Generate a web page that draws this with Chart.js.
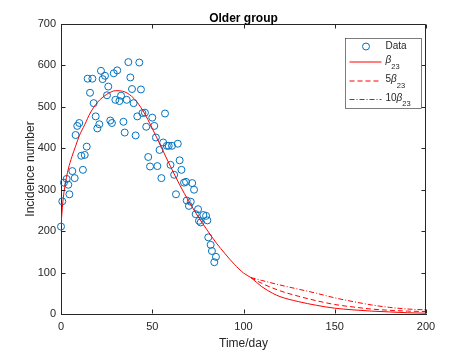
<!DOCTYPE html>
<html>
<head>
<meta charset="utf-8">
<title>Older group</title>
<script src="https://cdn.jsdelivr.net/npm/chart.js@4/dist/chart.umd.min.js"></script>
<style>
  html, body { margin: 0; padding: 0; background: #fff; }
</style>
</head>
<body>
<canvas id="olderChart" width="471" height="353"></canvas>
<script>
const obsDays = [0, 0.7, 1.6, 3.1, 4, 4.6, 6.2, 7.5, 8, 8.9, 10, 11.1, 12, 13, 14.1, 14.6, 15.9, 17.2, 17.9, 19,
  19.9, 21, 21.9, 22.8, 24.1, 25.2, 25.9, 27, 27.9, 28.9, 29.8, 30.8, 32, 32.9, 34.2, 34.9, 36, 36.9, 38, 38.9,
  39.8, 40.9, 41.8, 42.9, 43.8, 44.6, 46, 46.7, 47.8, 48.8, 50, 51.1, 52, 52.8, 54, 55, 56, 57, 58, 59,
  60, 60.8, 62, 63, 64, 65, 66, 67.4, 68.5, 68.9, 70.1, 71.1, 71.9, 72.9, 73.8, 75.1, 75.6, 76.5, 78, 79.5,
  80.2, 80.7, 82, 82.7, 84, 84.9];
const obsCases = [211, 272, 317, 326, 312, 289, 345, 328, 432, 454, 461, 382, 348, 384, 404, 568, 534, 568, 509, 477,
  448, 458, 587, 567, 575, 528, 549, 467, 461, 581, 517, 588, 514, 527, 464, 438, 517, 608, 571, 543,
  509, 431, 477, 607, 542, 485, 486, 452, 379, 356, 474, 454, 426, 357, 396, 328, 414, 484, 406, 406,
  360, 406, 336, 289, 411, 371, 348, 317, 319, 274, 261, 271, 316, 300, 241, 253, 225, 221, 239, 237,
  226, 185, 167, 152, 125, 138];

// fitted curve with beta23
const fitDays = [0, 1, 2, 3, 4, 6, 8, 10, 13, 16, 20, 25, 30, 35, 40, 45, 50, 55, 60, 65, 70, 75, 80, 85, 90, 95,
  100, 104, 110, 116, 120, 130, 140, 150, 160, 170, 180, 190, 200];
const fitCases = [215, 270, 305, 330, 350, 380, 405, 430, 457, 485, 511, 530, 539, 536, 520, 490, 448, 402, 356, 312,
  272, 236, 203, 172, 145, 120, 99, 88, 66, 50, 42, 30, 21, 14, 10, 7, 5, 3, 2];

// scenarios after day 104
const scenDays = [104, 110, 120, 130, 140, 150, 160, 170, 180, 190, 200];
const beta5Cases = [88, 74, 56, 43, 32, 23, 17, 12, 9, 7, 6];
const beta10Cases = [88, 81, 70, 60, 50, 39, 30, 22, 16, 12, 10];

const xTicks = [0, 50, 100, 150, 200];
const yTicks = [0, 100, 200, 300, 400, 500, 600, 700];
const legendNames = ['Data', 'β_23', '5β_23', '10β_23'];

const axisColor = '#262626';
const dataBlue = '#0072BD';
const fitRed = '#FF0000';
const fontFam = '"Liberation Sans", Arial, sans-serif';

const toPts = (xs, ys) => xs.map((d, i) => ({ x: d, y: ys[i] }));

// draws "5β_23" style labels with subscript
function drawTexLabel(ctx, label, x, y) {
  const [main, sub] = label.split('_');
  let cx = x;
  for (const ch of main) {
    ctx.font = (ch === 'β' ? 'italic ' : '') + '10px ' + fontFam;
    ctx.fillText(ch, cx, y - (sub ? 1.5 : 0));
    cx += ctx.measureText(ch).width;
  }
  if (sub) {
    ctx.font = '7.5px ' + fontFam;
    ctx.fillText(sub, cx, y + 4.5);
  }
}

const matlabFrame = {
  id: 'matlabFrame',
  afterDraw(chart) {
    const { ctx, chartArea: a, scales: { x, y } } = chart;
    const L = Math.round(a.left) + 0.5, R = Math.round(a.right) - 0.5;
    const T = Math.round(a.top) + 0.5, B = Math.round(a.bottom) - 0.5;
    ctx.save();
    ctx.strokeStyle = axisColor;
    ctx.lineWidth = 1;
    ctx.beginPath();
    ctx.moveTo(L, T); ctx.lineTo(R, T); ctx.lineTo(R, B);
    x.ticks.forEach(t => {
      const px = Math.round(x.getPixelForValue(t.value)) + 0.5;
      ctx.moveTo(px, B); ctx.lineTo(px, B - 4);
      ctx.moveTo(px, T); ctx.lineTo(px, T + 4);
    });
    y.ticks.forEach(t => {
      const py = Math.round(y.getPixelForValue(t.value)) + 0.5;
      ctx.moveTo(L, py); ctx.lineTo(L + 4, py);
      ctx.moveTo(R, py); ctx.lineTo(R - 4, py);
    });
    ctx.stroke();

    // title and axis labels
    ctx.fillStyle = '#000';
    ctx.textAlign = 'center';
    ctx.textBaseline = 'alphabetic';
    ctx.font = 'bold 12px ' + fontFam;
    ctx.fillText('Older group', (a.left + a.right) / 2, 22);
    ctx.fillStyle = axisColor;
    ctx.font = '12px ' + fontFam;
    ctx.fillText('Time/day', (a.left + a.right) / 2, 347);
    ctx.save();
    ctx.translate(34, (a.top + a.bottom) / 2);
    ctx.rotate(-Math.PI / 2);
    ctx.fillText('Incidence number', 0, 0);
    ctx.restore();

    // legend box
    const lx = Math.round(a.right) - 80.5, ly = Math.round(a.top) + 14.5, lw = 76, lh = 70;
    ctx.fillStyle = '#fff';
    ctx.fillRect(lx, ly, lw, lh);
    ctx.strokeStyle = axisColor;
    ctx.lineWidth = 0.6;
    ctx.strokeRect(lx, ly, lw, lh);
    const rowY = [8, 23.5, 42.5, 61];
    const dashes = [null, [], [5, 3], [5, 2, 1, 2]];
    ctx.textAlign = 'left';
    ctx.textBaseline = 'middle';
    legendNames.forEach((name, i) => {
      const ry = ly + rowY[i];
      if (i === 0) {
        ctx.strokeStyle = dataBlue;
        ctx.lineWidth = 1;
        ctx.setLineDash([]);
        ctx.beginPath();
        ctx.arc(lx + 20.5, ry, 3.5, 0, Math.PI * 2);
        ctx.stroke();
      } else {
        ctx.strokeStyle = fitRed;
        ctx.lineWidth = 1;
        ctx.setLineDash(dashes[i]);
        ctx.beginPath();
        ctx.moveTo(lx + 4, ry);
        ctx.lineTo(lx + 36, ry);
        ctx.stroke();
      }
      ctx.setLineDash([]);
      ctx.fillStyle = axisColor;
      drawTexLabel(ctx, name, lx + 40, ry);
    });
    ctx.restore();
  }
};

const lineStyle = {
  showLine: true,
  pointRadius: 0,
  borderColor: fitRed,
  borderWidth: 1,
  fill: false,
  cubicInterpolationMode: 'monotone'
};

new Chart(document.getElementById('olderChart').getContext('2d'), {
  type: 'scatter',
  data: {
    datasets: [
      {
        label: legendNames[0],
        data: toPts(obsDays, obsCases),
        pointStyle: 'circle',
        pointRadius: 3.5,
        pointBorderWidth: 1,
        pointBackgroundColor: 'rgba(0,0,0,0)',
        pointBorderColor: dataBlue,
        clip: false,
        order: 4
      },
      Object.assign({ label: legendNames[1], data: toPts(fitDays, fitCases), order: 1 }, lineStyle),
      Object.assign({ label: legendNames[2], data: toPts(scenDays, beta5Cases), borderDash: [5, 3], order: 2 }, lineStyle),
      Object.assign({ label: legendNames[3], data: toPts(scenDays, beta10Cases), borderDash: [5, 2, 1, 2], order: 3 }, lineStyle)
    ]
  },
  options: {
    responsive: false,
    animation: false,
    layout: { padding: { left: 0, right: 45, top: 24, bottom: 0 } },
    plugins: {
      legend: { display: false },
      title: { display: false },
      tooltip: { enabled: false }
    },
    scales: {
      x: {
        type: 'linear',
        min: 0,
        max: 200,
        afterFit: s => { s.height = 39; },
        afterBuildTicks: s => { s.ticks = xTicks.map(v => ({ value: v })); },
        grid: { display: false, drawTicks: false },
        border: { display: true, color: axisColor, width: 1 },
        ticks: { color: axisColor, font: { family: fontFam, size: 11 }, padding: 6, maxRotation: 0 }
      },
      y: {
        type: 'linear',
        min: 0,
        max: 700,
        afterFit: s => { s.width = 61; },
        afterBuildTicks: s => { s.ticks = yTicks.map(v => ({ value: v })); },
        grid: { display: false, drawTicks: false },
        border: { display: true, color: axisColor, width: 1 },
        ticks: { color: axisColor, font: { family: fontFam, size: 11 }, padding: 5 }
      }
    }
  },
  plugins: [matlabFrame]
});
</script>
</body>
</html>
